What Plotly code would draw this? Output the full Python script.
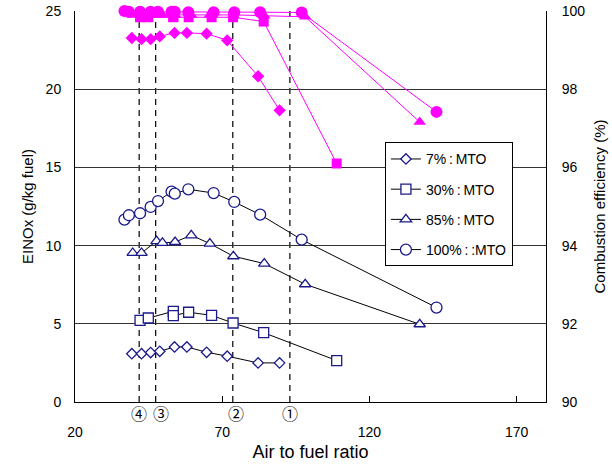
import plotly.graph_objects as go

# ---- data ----
afr_7 = [39.3, 42.6, 45.7, 48.8, 53.8, 58.0, 64.7, 71.7, 82.2, 89.5]
einox_7 = [3.09, 3.09, 3.16, 3.24, 3.52, 3.52, 3.18, 2.93, 2.50, 2.50]
ce_7 = [99.31, 99.28, 99.28, 99.35, 99.44, 99.44, 99.42, 99.25, 98.33, 97.46]

afr_30 = [42.1, 44.9, 53.4, 53.4, 58.6, 66.4, 73.7, 84.1, 108.9]
einox_30 = [5.22, 5.37, 5.80, 5.52, 5.74, 5.54, 5.05, 4.43, 2.65]
ce_30 = [99.84, 99.84, 99.85, 99.84, 99.84, 99.84, 99.84, 99.73, 96.10]

afr_85 = [39.6, 42.6, 47.7, 49.7, 54.0, 59.5, 65.8, 73.8, 84.3, 98.2, 137.1]
einox_85 = [9.53, 9.53, 10.29, 10.17, 10.23, 10.66, 10.13, 9.32, 8.85, 7.53, 4.97]
ce_85 = [99.90, 99.90, 99.90, 99.90, 99.90, 99.90, 99.90, 99.90, 99.88, 99.85, 97.16]

afr_100 = [36.8, 38.3, 42.1, 45.7, 48.2, 52.8, 53.9, 58.5, 67.1, 74.1, 82.9, 97.0, 142.8]
einox_100 = [11.66, 11.94, 12.07, 12.47, 12.85, 13.45, 13.32, 13.60, 13.36, 12.79, 11.98, 10.38, 6.04]
ce_100 = [100.0, 99.98, 99.98, 99.98, 99.98, 99.98, 99.98, 99.97, 99.97, 99.97, 99.97, 99.96, 97.42]

series_names = ["7%\u2009:\u2009MTO", "30%\u2009:\u2009MTO", "85%\u2009:\u2009MTO", "100%\u2009:\u2009:MTO"]
marker_symbols = ["diamond", "square", "triangle-up", "circle"]

ref_afr = [41.8, 47.4, 73.6, 93.0]
ref_labels = ["④", "③", "②", "①"]

x_ticks = [20, 70, 120, 170]

# ---- figure ----
NAVY = "#1a1a8c"
MAG = "#ff00ff"
FONT = "Liberation Sans, Arial, sans-serif"

fig = go.Figure()

afrs = [afr_7, afr_30, afr_85, afr_100]
einoxs = [einox_7, einox_30, einox_85, einox_100]
ces = [ce_7, ce_30, ce_85, ce_100]
blue_sizes = [8, 10, 10, 11]
mag_sizes = [9.5, 10, 11, 12]

for i in range(4):
    fig.add_trace(go.Scatter(
        x=afrs[i], y=ces[i], yaxis="y2", mode="lines+markers",
        line=dict(color=MAG, width=1),
        marker=dict(symbol=marker_symbols[i], size=mag_sizes[i], color=MAG,
                    line=dict(width=0)),
        showlegend=False, cliponaxis=False,
    ))

for i in range(4):
    fig.add_trace(go.Scatter(
        x=afrs[i], y=einoxs[i], mode="lines+markers", name=series_names[i],
        legendgroup=f"g{i}",
        line=dict(color="black", width=1),
        marker=dict(symbol=marker_symbols[i], size=blue_sizes[i],
                    color="white", line=dict(color=NAVY, width=1.3)),
        cliponaxis=False,
    ))

for xv in ref_afr:
    fig.add_shape(type="line", x0=xv, x1=xv, y0=0, y1=25, xref="x", yref="y",
                  line=dict(color="black", width=1.2, dash="6px,5px"), layer="below")

shifts = [0, 5, 3, 0]
for xv, lab, sh in zip(ref_afr, ref_labels, shifts):
    fig.add_annotation(x=xv, y=0, xref="x", yref="y", text=lab, showarrow=False,
                       yshift=-11, xshift=sh, yanchor="middle", borderpad=0,
                       font=dict(family="Noto Sans CJK JP", size=16, color="black"))

fig.update_layout(
    width=612, height=466,
    margin=dict(l=75, r=66, t=11, b=64),
    paper_bgcolor="white", plot_bgcolor="white",
    font=dict(family=FONT, size=14, color="black"),
    showlegend=True,
    legend=dict(x=0.658, y=0.664, xanchor="left", yanchor="top",
                bgcolor="white", bordercolor="black", borderwidth=1,
                font=dict(family=FONT, size=14, color="black"),
                tracegroupgap=9, itemwidth=30),
    xaxis=dict(range=[20, 180], tickvals=x_ticks, ticks="inside", ticklen=6,
               tickcolor="black", showline=True, linecolor="black", linewidth=1,
               showgrid=False, zeroline=False, ticklabelstandoff=17, automargin=False,
               title=dict(text="Air to fuel ratio", font=dict(size=18), standoff=6)),
    yaxis=dict(range=[0, 25], dtick=5, showline=True, linecolor="black",
               linewidth=1, showgrid=True, gridcolor="#333333", gridwidth=1,
               zeroline=False, ticks="", ticklabelstandoff=10, automargin=False,
               title=dict(text="EINOx (g/kg fuel)", font=dict(size=15), standoff=8)),
    yaxis2=dict(range=[90, 100], dtick=2, overlaying="y", side="right",
                showline=True, linecolor="black", linewidth=1, showgrid=False,
                zeroline=False, ticks="", ticklabelstandoff=12, automargin=False,
                title=dict(text="Combustion efficiency (%)", font=dict(size=15), standoff=10)),
)

fig.write_html("out.html")
